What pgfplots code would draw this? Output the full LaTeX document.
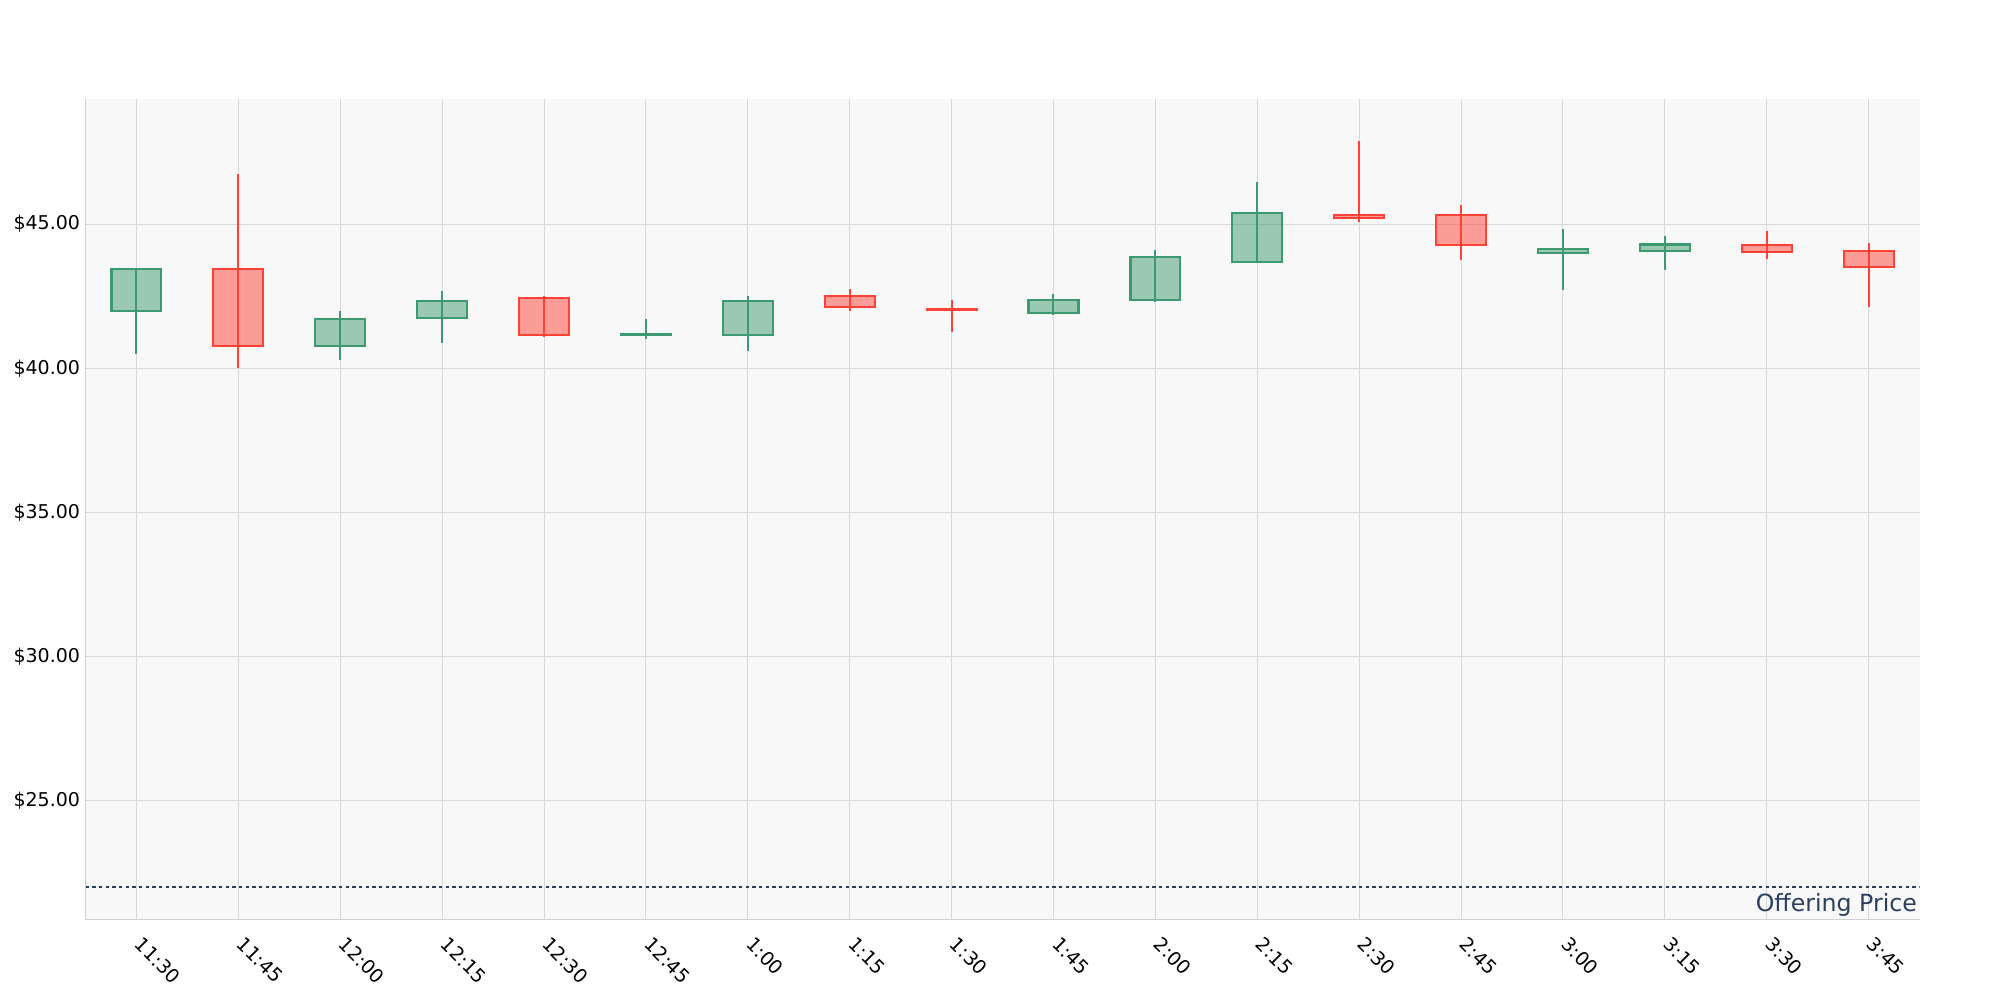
\documentclass[border=0pt]{standalone}
\usepackage{fontspec}
\setmainfont{DejaVu Sans}
\usepackage{pgfplots}
\pgfplotsset{compat=1.18}

\definecolor{incr}{HTML}{3D9970}
\definecolor{decr}{HTML}{FF4136}
\definecolor{bgc}{HTML}{F8F8F8}
\definecolor{gridc}{HTML}{D8D8D8}
\definecolor{axc}{HTML}{D0D0D0}
\definecolor{navy}{HTML}{2A3F5F}

% \candle{colour}{x}{left}{right}{open}{high}{low}{close}
\newcommand{\candle}[8]{%
  \addplot[draw=#1, line width=0.6pt] coordinates {(#2,#7) (#2,#6)};
  \addplot[draw=#1, fill=#1, fill opacity=0.5, line width=0.65pt, line join=miter]
    coordinates {(#3,#5) (#4,#5) (#4,#8) (#3,#8)} -- cycle;
}

\begin{document}
\begin{tikzpicture}
\begin{axis}[
  name=ax,
  scale only axis,
  width=550.2pt, height=246pt,
  xmin=-0.5, xmax=17.5,
  ymin=20.88, ymax=49.32,
  axis background/.style={fill=bgc},
  axis x line*=bottom, axis y line*=left,
  axis line style={draw=axc, line width=0.4pt, -},
  major tick length=0pt,
  grid=major,
  major grid style={draw=gridc, line width=0.3pt},
  xtick={0,...,17},
  xticklabels={11:30,11:45,12:00,12:15,12:30,12:45,1:00,1:15,1:30,1:45,2:00,2:15,2:30,2:45,3:00,3:15,3:30,3:45},
  xticklabel style={rotate=-45, anchor=north west, xshift=1.5pt, yshift=1.6pt,
    font=\fontsize{5.7}{6.8}\selectfont},
  ytick={25,30,35,40,45},
  yticklabels={\$25.00,\$30.00,\$35.00,\$40.00,\$45.00},
  yticklabel style={xshift=1.9pt, font=\fontsize{5.7}{6.8}\selectfont},
]
\candle{incr}{0}{-0.245}{0.245}{41.99}{43.43}{40.50}{43.43}
\candle{decr}{1}{0.755}{1.245}{43.43}{46.75}{40.00}{40.76}
\candle{incr}{2}{1.755}{2.245}{40.76}{41.98}{40.28}{41.72}
\candle{incr}{3}{2.755}{3.245}{41.75}{42.69}{40.86}{42.34}
\candle{decr}{4}{3.755}{4.245}{42.44}{42.50}{41.08}{41.16}
\candle{incr}{5}{4.755}{5.245}{41.15}{41.70}{41.00}{41.17}
\candle{incr}{6}{5.755}{6.245}{41.16}{42.50}{40.61}{42.34}
\candle{decr}{7}{6.755}{7.245}{42.51}{42.74}{42.00}{42.12}
\candle{decr}{8}{7.755}{8.245}{42.06}{42.37}{41.25}{42.02}
\candle{incr}{9}{8.755}{9.245}{41.92}{42.58}{41.85}{42.38}
\candle{incr}{10}{9.755}{10.245}{42.37}{44.11}{42.30}{43.85}
\candle{incr}{11}{10.755}{11.245}{43.67}{46.46}{43.67}{45.39}
\candle{decr}{12}{11.755}{12.245}{45.32}{47.89}{45.06}{45.20}
\candle{decr}{13}{12.755}{13.245}{45.30}{45.66}{43.75}{44.28}
\candle{incr}{14}{13.755}{14.245}{43.99}{44.83}{42.70}{44.14}
\candle{incr}{15}{14.755}{15.245}{44.07}{44.58}{43.40}{44.29}
\candle{decr}{16}{15.755}{16.245}{44.26}{44.77}{43.78}{44.03}
\candle{decr}{17}{16.755}{17.245}{44.07}{44.34}{42.13}{43.51}

% offering price
\addplot[navy, line width=0.6pt, dash pattern=on 1pt off 1pt] coordinates {(-0.5,22) (17.5,22)};
\node[anchor=north east, text=navy, inner sep=0.6pt, yshift=-1pt, font=\fontsize{7.1}{8.5}\selectfont]
  at (axis cs:17.5,22) {Offering Price};
\end{axis}
\pgfresetboundingbox
\path ([shift={(-25.65pt,-24.12pt)}]ax.south west) rectangle ([shift={(24.12pt,29.85pt)}]ax.north east);
\end{tikzpicture}
\end{document}
